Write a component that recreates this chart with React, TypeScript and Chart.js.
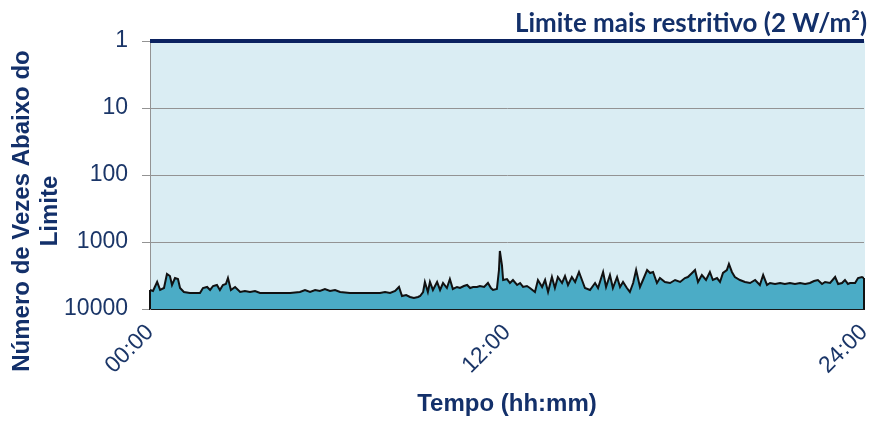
import React, { useEffect, useRef } from 'react';
import { Chart, registerables } from 'chart.js';

Chart.register(...registerables);

// Time of day (hours) and number of times below the limit
const hours = [
  0.0, 0.1, 0.24, 0.34, 0.47, 0.57, 0.67, 0.74, 0.84, 0.94, 1.01, 1.14, 1.34, 1.55, 1.68, 1.78, 1.92, 2.02,
  2.12, 2.25, 2.35, 2.45, 2.55, 2.62, 2.72, 2.86, 3.03, 3.19, 3.36, 3.53, 3.7, 4.03, 4.37, 4.71, 5.04, 5.21,
  5.38, 5.55, 5.71, 5.88, 6.05, 6.22, 6.39, 6.72, 7.06, 7.39, 7.73, 7.9, 8.07, 8.24, 8.37, 8.47, 8.61, 8.74,
  8.87, 9.01, 9.08, 9.18, 9.24, 9.34, 9.41, 9.51, 9.65, 9.75, 9.85, 9.98, 10.08, 10.18, 10.32, 10.42, 10.55,
  10.66, 10.76, 10.86, 10.99, 11.09, 11.23, 11.36, 11.46, 11.53, 11.66, 11.73, 11.76, 11.83, 11.87, 12.0,
  12.1, 12.2, 12.34, 12.44, 12.54, 12.67, 12.77, 12.94, 13.04, 13.18, 13.28, 13.38, 13.51, 13.61, 13.71,
  13.85, 13.95, 14.05, 14.18, 14.29, 14.42, 14.52, 14.62, 14.79, 14.96, 15.06, 15.23, 15.33, 15.46, 15.56,
  15.7, 15.8, 15.9, 16.03, 16.13, 16.24, 16.34, 16.47, 16.57, 16.71, 16.81, 16.91, 17.04, 17.14, 17.31,
  17.48, 17.65, 17.82, 17.98, 18.08, 18.22, 18.32, 18.42, 18.55, 18.69, 18.82, 18.92, 19.06, 19.16, 19.26,
  19.39, 19.46, 19.56, 19.66, 19.83, 20.0, 20.17, 20.34, 20.5, 20.61, 20.74, 20.84, 21.01, 21.18, 21.34,
  21.51, 21.68, 21.85, 22.02, 22.18, 22.32, 22.45, 22.59, 22.69, 22.86, 23.03, 23.13, 23.26, 23.36, 23.46,
  23.53, 23.7, 23.8, 23.93, 24.0,
];

const timesBelowLimit = [
  5200, 5390, 3950, 5200, 4860, 3000, 3220, 4380, 3450, 3570, 4860, 5570, 5770, 5770, 5770, 4860, 4690, 5200,
  4540, 4380, 5200, 4380, 4230, 3450, 5200, 4690, 5570, 5390, 5570, 5390, 5770, 5770, 5770, 5770, 5570, 5200,
  5570, 5200, 5390, 5030, 5390, 5200, 5570, 5770, 5770, 5770, 5770, 5570, 5770, 5390, 4690, 6400, 6180, 6620,
  6860, 6620, 6400, 5570, 3950, 5570, 3950, 5200, 3950, 5200, 4090, 4860, 3570, 5030, 4690, 4860, 4540,
  4380, 4860, 4690, 4690, 4540, 4690, 4090, 4860, 5200, 5030, 2620, 1360, 2210, 3690, 3570,
  4090, 3690, 4380, 4090, 4690, 4540, 4860, 5570, 3690, 4690, 3690, 5570, 3330, 4860, 3330,
  4090, 3220, 4380, 3330, 3950, 2800, 3690, 4860, 5200, 4090, 4860, 2800, 4690, 3110, 4860,
  3330, 4690, 3950, 4860, 5570, 4090, 2620, 4690, 3690, 2620, 2900, 2800, 4090, 3450, 3950,
  4090, 3690, 3950, 3450, 3330, 2900, 2620, 3950, 3110, 3690, 2800, 3690, 3450, 3950, 2900,
  2620, 2130, 2800, 3330, 3690, 3950, 4090, 3690, 4380, 3110, 4380, 4090, 4230, 4090, 4230,
  4090, 4230, 4090, 4230, 4090, 3820, 3690, 4230, 3950, 4090, 3330, 4230, 4090, 3690, 4230,
  4090, 4090, 3450, 3330, 3450,
];

// The most restrictive limit line (value 1 on the reversed log axis)
const limitHours = [0, 24];
const limitValues = [1, 1];

const yTickValues = [1, 10, 100, 1000, 10000];
const xTickHours = [0, 12, 24];

const limitLabel = 'Limite mais restritivo (2 W/m²)';
const yTitleLines = ['Número de Vezes Abaixo do', 'Limite'];
const xTitle = 'Tempo (hh:mm)';

const NAVY_TEXT = '#13306A';
const TICK_TEXT = '#1B3668';
const SANS = 'Arial, "Liberation Sans", sans-serif';

export default function App() {
  const canvasRef = useRef<HTMLCanvasElement | null>(null);

  useEffect(() => {
    const canvas = canvasRef.current;
    if (!canvas) return;

    const decorPlugin = {
      id: 'decor',
      beforeDraw(chart: any) {
        const { ctx, chartArea: a } = chart;
        ctx.save();
        ctx.fillStyle = '#DAEDF3';
        ctx.fillRect(a.left, a.top, a.right - a.left + 1, a.bottom - a.top);
        ctx.restore();
      },
      afterDatasetsDraw(chart: any) {
        const { ctx, chartArea: a, scales } = chart;
        const xs = scales.x;
        const ys = scales.y;
        ctx.save();
        ctx.strokeStyle = '#111111';
        ctx.lineWidth = 2;
        const n = hours.length - 1;
        const xl = xs.getPixelForValue(hours[0]);
        const xr = xs.getPixelForValue(hours[n]);
        ctx.beginPath();
        ctx.moveTo(xl, ys.getPixelForValue(timesBelowLimit[0]));
        ctx.lineTo(xl, a.bottom);
        ctx.moveTo(xr, ys.getPixelForValue(timesBelowLimit[n]));
        ctx.lineTo(xr, a.bottom);
        ctx.stroke();
        ctx.restore();
      },
      afterDraw(chart: any) {
        const { ctx, chartArea: a } = chart;
        ctx.save();
        // limit label
        ctx.fillStyle = NAVY_TEXT;
        ctx.font = 'bold 26px Lato';
        ctx.textAlign = 'right';
        ctx.textBaseline = 'alphabetic';
        ctx.fillText(limitLabel, a.right + 3, a.top - 9, 352);
        // y axis title
        ctx.font = 'bold 24px ' + SANS;
        ctx.textAlign = 'center';
        ctx.textBaseline = 'middle';
        ctx.translate(0, 211);
        ctx.rotate(-Math.PI / 2);
        ctx.fillText(yTitleLines[0], 0, 22, 323);
        ctx.fillText(yTitleLines[1], 0, 50);
        ctx.restore();
      },
    };

    const chart = new Chart(canvas, {
      type: 'line',
      data: {
        datasets: [
          {
            label: 'Limite',
            data: limitHours.map((h, i) => ({ x: h, y: limitValues[i] })),
            borderColor: '#0B2260',
            borderWidth: 4,
            pointRadius: 0,
            fill: false,
            clip: false as any,
            order: 0,
          },
          {
            label: 'Número de vezes abaixo do limite',
            data: hours.map((h, i) => ({ x: h, y: timesBelowLimit[i] })),
            borderColor: '#111111',
            borderWidth: 2,
            backgroundColor: '#4BACC6',
            pointRadius: 0,
            tension: 0,
            fill: 'start',
            order: 1,
          },
        ],
      },
      options: {
        animation: false,
        responsive: true,
        maintainAspectRatio: false,
        layout: { padding: { top: 41, right: 10, left: 0, bottom: 0 } },
        plugins: {
          legend: { display: false },
          tooltip: { enabled: false },
          title: { display: false },
        },
        scales: {
          x: {
            type: 'linear',
            min: 0,
            max: 24,
            z: 1,
            afterFit(scale: any) {
              scale.height = 112;
              scale.paddingLeft = 0;
              scale.paddingRight = 0;
            },
            afterBuildTicks(scale: any) {
              scale.ticks = xTickHours.map((v) => ({ value: v }));
            },
            grid: { display: true, color: 'rgba(0,0,0,0)', drawTicks: false },
            border: { display: true, color: '#1A1A1A', width: 2 },
            ticks: {
              autoSkip: false,
              maxRotation: 45,
              minRotation: 45,
              padding: 10,
              color: TICK_TEXT,
              font: { family: SANS, size: 23 },
              callback: (v: any) => String(v).padStart(2, '0') + ':00',
            },
            title: {
              display: true,
              text: xTitle,
              color: NAVY_TEXT,
              font: { family: SANS, size: 24, weight: 'bold' },
              padding: { top: 0, bottom: 2 },
            },
          },
          y: {
            type: 'logarithmic',
            reverse: true,
            min: 1,
            max: 10000,
            afterFit(scale: any) {
              scale.width = 150;
            },
            afterBuildTicks(scale: any) {
              scale.ticks = yTickValues.map((v) => ({ value: v }));
            },
            grid: { color: '#939393', lineWidth: 1, tickLength: 8, drawTicks: true },
            border: { display: true, color: '#939393', width: 1 },
            ticks: {
              padding: 14,
              color: TICK_TEXT,
              font: { family: SANS, size: 23 },
              callback: (v: any) => String(v),
            },
          },
        },
      },
      plugins: [decorPlugin],
    });

    return () => chart.destroy();
  }, []);

  return (
    <div style={{ position: 'fixed', left: 0, top: 0, width: 874, height: 421 }}>
      <canvas ref={canvasRef} />
    </div>
  );
}
